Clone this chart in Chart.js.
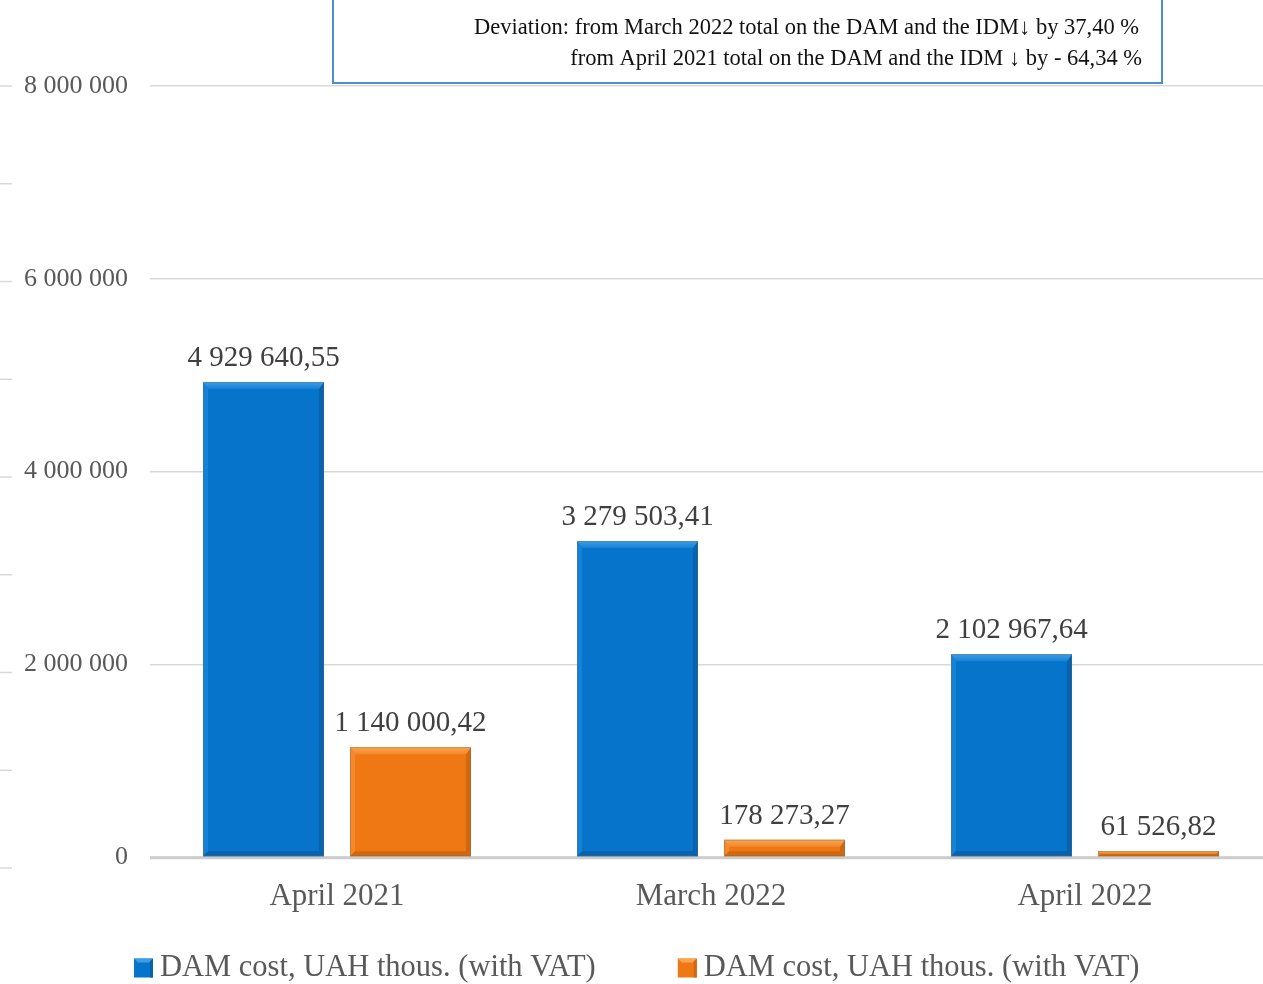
<!DOCTYPE html>
<html>
<head>
<meta charset="utf-8">
<script src="https://cdn.jsdelivr.net/npm/chart.js@4/dist/chart.umd.min.js"></script>
<style>
html,body{margin:0;padding:0;overflow:hidden;background:#fff;}
#wrap{position:relative;width:1272px;height:984px;}
</style>
</head>
<body>
<div id="wrap"><canvas id="c" width="1272" height="984"></canvas></div>
<script>
const categories = ['April 2021', 'March 2022', 'April 2022'];
const seriesNames = ['DAM cost, UAH thous. (with VAT)', 'DAM cost, UAH thous. (with VAT)'];
const blueValues = [4929640.55, 3279503.41, 2102967.64];
const orangeValues = [1140000.42, 178273.27, 61526.82];
const yTicks = [0, 2000000, 4000000, 6000000, 8000000];
const noteLines = [
  'Deviation: from March 2022 total on the DAM and the IDM\u2193 by 37,40 %',
  'from April 2021 total on the DAM and the IDM \u2193 by - 64,34 %'
];

const SERIF = '"Liberation Serif", "Times New Roman", serif';
const palette = [
  {main:'#0774cb', light:'#3f9de4', dark:'#0862ad', side:'#1582d6'},
  {main:'#f07814', light:'#f8a651', dark:'#cf680f', side:'#f4882a'}
];

function fmtInt(n){
  return String(Math.round(n)).replace(/\B(?=(\d{3})+(?!\d))/g, ' ');
}
function fmtVal(v){
  const s = v.toFixed(2).split('.');
  return s[0].replace(/\B(?=(\d{3})+(?!\d))/g, ' ') + ',' + s[1];
}

const bevelPlugin = {
  id: 'bevel',
  afterDatasetsDraw(chart){
    const ctx = chart.ctx;
    chart.data.datasets.forEach((ds, di) => {
      const meta = chart.getDatasetMeta(di);
      const p = palette[di];
      meta.data.forEach((el, idx) => {
        const w = el.width;
        const l = el.x - w/2, r = el.x + w/2, t = el.y, b = el.base;
        const h = b - t;
        const bv = Math.min(7, h/2);
        const sb = Math.min(5, h/2);
        ctx.save();
        ctx.fillStyle = p.side;
        ctx.beginPath();
        ctx.moveTo(l, t); ctx.lineTo(l + sb, t + bv); ctx.lineTo(l + sb, b - sb); ctx.lineTo(l, b); ctx.closePath(); ctx.fill();
        ctx.fillStyle = p.dark;
        ctx.beginPath();
        ctx.moveTo(r, t); ctx.lineTo(r - sb, t + bv); ctx.lineTo(r - sb, b - sb); ctx.lineTo(r, b); ctx.closePath(); ctx.fill();
        ctx.beginPath();
        ctx.moveTo(l, b); ctx.lineTo(l + sb, b - sb); ctx.lineTo(r - sb, b - sb); ctx.lineTo(r, b); ctx.closePath(); ctx.fill();
        const g = ctx.createLinearGradient(0, t, 0, t + bv);
        g.addColorStop(0, p.light);
        g.addColorStop(1, p.side);
        ctx.fillStyle = g;
        ctx.beginPath();
        ctx.moveTo(l, t); ctx.lineTo(r, t); ctx.lineTo(r - sb, t + bv); ctx.lineTo(l + sb, t + bv); ctx.closePath(); ctx.fill();
        ctx.strokeStyle = 'rgba(110,110,110,0.35)';
        ctx.lineWidth = 1;
        ctx.strokeRect(l + 0.5, t + 0.5, w - 1, h - 1);
        ctx.restore();
        ctx.save();
        ctx.font = '29px ' + SERIF;
        ctx.fillStyle = '#404040';
        ctx.textAlign = 'center';
        ctx.textBaseline = 'alphabetic';
        ctx.fillText(fmtVal(ds.data[idx]), el.x, t - 16);
        ctx.restore();
      });
    });
  }
};

const decorPlugin = {
  id: 'decor',
  beforeDatasetsDraw(chart){
    const ctx = chart.ctx;
    const y = chart.scales.y;
    ctx.save();
    ctx.strokeStyle = '#d9d9d9';
    ctx.lineWidth = 1.5;
    const top = y.getPixelForValue(8000000), bot = y.getPixelForValue(0) + 11;
    for (let i = 0; i <= 8; i++){
      const yy = top + (bot - top) * i / 8;
      ctx.beginPath(); ctx.moveTo(0, yy); ctx.lineTo(12, yy); ctx.stroke();
    }
    ctx.restore();
  },
  afterDatasetsDraw(chart){
    const ctx = chart.ctx;
    const y = chart.scales.y;
    const area = chart.chartArea;
    ctx.save();
    ctx.strokeStyle = 'rgba(200,200,200,0.9)';
    ctx.lineWidth = 2.5;
    const y0 = y.getPixelForValue(0) + 1;
    ctx.beginPath(); ctx.moveTo(area.left, y0); ctx.lineTo(area.right, y0); ctx.stroke();
    ctx.restore();
  },
  afterDraw(chart){
    const ctx = chart.ctx;
    ctx.save();
    ctx.fillStyle = '#ffffff';
    ctx.fillRect(332, 0, 831, 83);
    ctx.strokeStyle = '#4a90d0';
    ctx.lineWidth = 2;
    ctx.strokeRect(333, -1, 829, 84);
    ctx.font = '22.5px ' + SERIF;
    ctx.fillStyle = '#111111';
    ctx.textAlign = 'right';
    ctx.textBaseline = 'middle';
    ctx.fillText(noteLines[0], 1139, 28);
    ctx.fillText(noteLines[1], 1142, 59);
    ctx.font = '30.5px ' + SERIF;
    ctx.textBaseline = 'middle';
    ctx.textAlign = 'left';
    const ly = 968;
    const box = 19;
    const tw = ctx.measureText(seriesNames[0]).width;
    const gap = 82;
    let x = 134;
    for (let i = 0; i < 2; i++){
      const p = palette[i];
      const bt = ly - box/2;
      ctx.fillStyle = p.main;
      ctx.fillRect(x, bt, box, box);
      ctx.fillStyle = p.light;
      ctx.beginPath(); ctx.moveTo(x, bt); ctx.lineTo(x + box, bt); ctx.lineTo(x + box - 4, bt + 4); ctx.lineTo(x + 4, bt + 4); ctx.closePath(); ctx.fill();
      ctx.fillStyle = p.dark;
      ctx.beginPath(); ctx.moveTo(x + box, bt); ctx.lineTo(x + box - 3, bt + 3); ctx.lineTo(x + box - 3, bt + box); ctx.lineTo(x + box, bt + box); ctx.closePath(); ctx.fill();
      ctx.fillStyle = '#595959';
      ctx.fillText(seriesNames[i], x + box + 7, ly);
      x += box + 7 + tw + gap;
    }
    ctx.restore();
  }
};

new Chart(document.getElementById('c'), {
  type: 'bar',
  data: {
    labels: categories,
    datasets: [
      {label: seriesNames[0], data: blueValues, backgroundColor: palette[0].main, categoryPercentage: 0.786, barPercentage: 0.823},
      {label: seriesNames[1], data: orangeValues, backgroundColor: palette[1].main, categoryPercentage: 0.786, barPercentage: 0.823}
    ]
  },
  options: {
    responsive: false,
    animation: false,
    layout: {padding: {top: 86, left: 0, right: 0, bottom: 0}},
    plugins: {legend: {display: false}, tooltip: {enabled: false}},
    scales: {
      x: {
        grid: {display: false, drawTicks: false},
        border: {display: false},
        ticks: {color: '#595959', font: {family: SERIF, size: 31}, padding: 21},
        afterFit(s){ s.height = 127; }
      },
      y: {
        min: 0, max: 8000000,
        afterBuildTicks(s){ s.ticks = yTicks.map(v => ({value: v})); },
        grid: {color: '#d9d9d9', lineWidth: 1.5, drawTicks: false},
        border: {display: false},
        ticks: {color: '#595959', font: {family: SERIF, size: 26}, padding: 22, callback: v => fmtInt(v)},
        afterFit(s){ s.width = 150; }
      }
    }
  },
  plugins: [decorPlugin, bevelPlugin]
});
</script>
</body>
</html>
